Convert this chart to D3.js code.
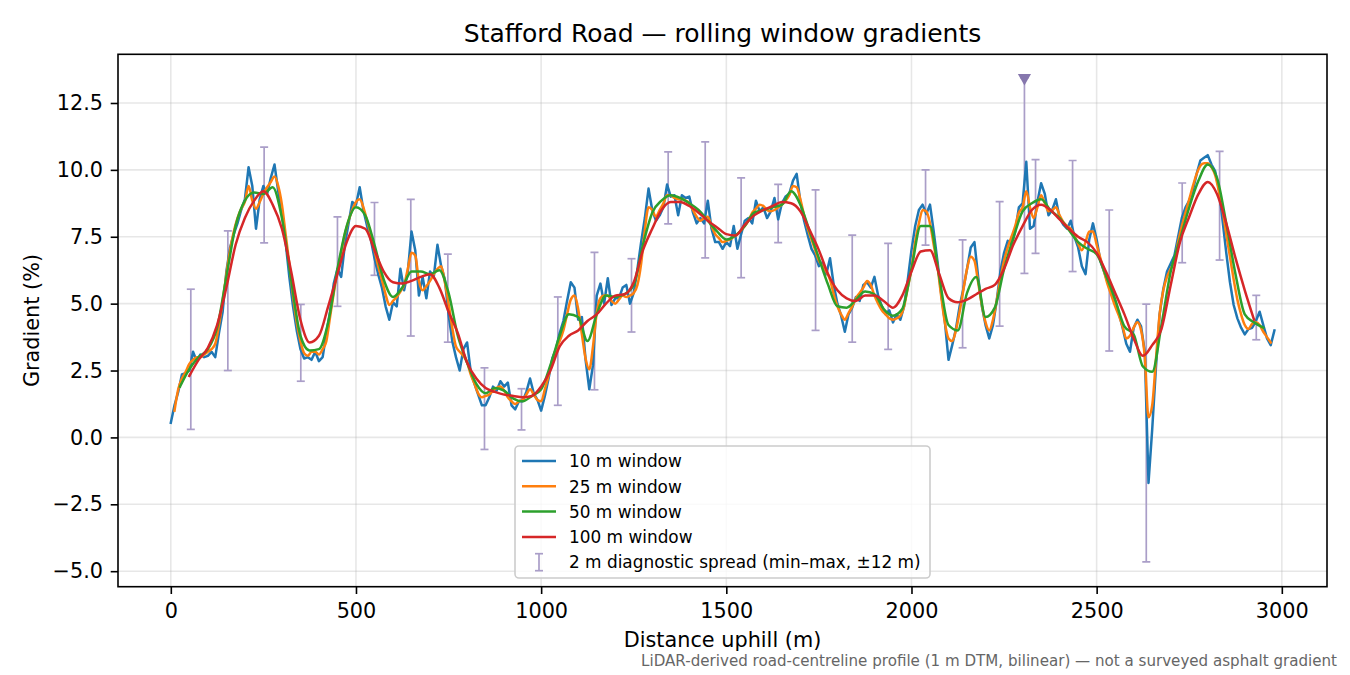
<!DOCTYPE html>
<html><head><meta charset="utf-8">
<script src="https://cdn.jsdelivr.net/npm/d3@7"></script>
<style>
body{margin:0;background:#fff}
svg{display:block}
text{font-family:"DejaVu Sans","Liberation Sans",sans-serif;fill:#000}
</style>
</head><body>
<svg id="chart" width="1350" height="675"></svg>
<script>
// ---------------- DATA ----------------
const titleText = "Stafford Road \u2014 rolling window gradients";
const xLabel = "Distance uphill (m)";
const yLabel = "Gradient (%)";
const footnote = "LiDAR-derived road-centreline profile (1 m DTM, bilinear) \u2014 not a surveyed asphalt gradient";

const xTicks = [0, 500, 1000, 1500, 2000, 2500, 3000];
const yTicks = [-5, -2.5, 0, 2.5, 5, 7.5, 10, 12.5];

const seriesNames = ["10 m window", "25 m window", "50 m window", "100 m window"];
const spreadName = "2 m diagnostic spread (min\u2013max, \u00b112 m)";

// 10 m window: sampled every 10 m starting at 0 m
const w10Start = 0, w10Step = 10;
const w10 = [
 0.55,1.2,1.7,2.35,2.4,2.5,3.2,2.85,3.1,3.0,
 3.05,3.2,3.0,3.9,4.7,6.2,7.1,7.6,8.0,8.5,
 8.9,10.1,9.4,7.8,8.9,9.4,9.1,9.7,10.2,9.2,
 8.4,7.3,6.0,4.9,4.0,3.3,2.95,3.0,2.9,3.2,
 2.85,3.0,3.9,4.7,5.75,6.3,6.0,7.2,8.0,8.8,
 8.7,9.35,8.5,7.9,7.4,6.7,6.1,5.6,4.9,4.4,
 5.05,4.9,6.3,5.5,6.2,7.7,7.0,5.3,6.0,5.2,
 6.2,6.0,7.2,6.4,5.9,4.6,3.6,3.0,2.5,3.3,
 3.55,2.45,2.0,1.6,1.2,1.2,1.5,1.9,1.75,2.1,
 1.9,2.05,1.2,1.05,1.35,1.35,1.7,2.2,1.65,1.4,
 1.0,1.55,2.2,2.95,3.3,3.9,4.35,5.1,5.8,5.6,
 4.4,4.5,2.9,1.8,2.7,5.3,5.75,5.0,5.95,4.95,
 5.2,5.2,5.6,5.7,5.0,5.4,6.3,7.3,8.2,9.3,
 8.5,8.1,8.3,8.6,9.45,9.0,9.05,8.3,9.05,8.95,
 9.0,8.4,8.0,8.2,8.0,8.85,7.8,7.3,7.3,7.05,
 7.3,7.15,7.9,7.05,7.6,8.1,8.2,8.0,8.85,8.45,
 8.6,8.2,8.45,8.95,8.15,8.75,9.0,9.1,9.6,9.85,
 8.8,8.1,7.55,7.05,6.8,6.4,6.55,6.1,6.7,5.7,
 5.0,4.55,3.95,4.6,4.85,5.25,5.1,5.7,5.8,5.6,
 6.0,5.3,4.9,4.6,4.75,4.3,4.6,4.4,4.9,5.9,
 7.0,7.9,8.5,8.7,8.35,8.7,7.7,6.6,5.4,4.35,
 2.9,3.45,4.05,4.9,5.55,6.3,7.1,7.3,6.0,4.9,
 4.2,3.7,4.2,5.1,6.2,6.9,7.35,7.2,7.7,8.6,
 8.75,10.3,7.8,7.9,8.8,9.5,9.1,8.3,8.5,8.9,
 8.2,7.95,7.8,8.1,7.5,7.1,6.4,6.1,7.4,8.0,
 7.4,6.6,6.2,5.8,5.65,5.1,4.65,4.1,3.5,3.2,
 4.1,4.4,4.15,3.2,-1.7,0.3,2.6,4.6,5.55,6.2,
 6.5,6.8,7.5,8.2,8.6,8.85,9.25,9.85,10.35,10.45,
 10.55,10.2,9.95,9.3,8.1,6.9,5.8,4.95,4.45,4.1,
 3.85,4.05,4.1,4.35,4.7,4.2,3.7,3.45,4.0
];

// 25 m window: sampled every 10 m starting at 10 m
const w25Start = 10, w25Step = 10;
const w25 = [
 1.0,1.8,2.2,2.45,2.75,2.9,3.0,3.0,3.1,
 3.2,3.3,3.5,4.2,5.1,6.1,7.0,7.7,8.2,8.55,
 8.8,9.4,8.85,8.55,8.8,9.1,9.35,9.55,9.75,9.4,
 8.7,7.6,6.5,5.3,4.3,3.6,3.15,3.05,3.2,3.2,
 3.1,3.3,3.6,4.5,5.4,6.2,6.9,7.6,8.1,8.5,
 8.8,8.9,8.6,8.1,7.6,7.0,6.4,5.9,5.35,4.95,
 5.1,5.25,5.45,5.7,6.3,6.9,6.8,5.85,5.5,5.65,
 5.85,6.1,6.3,6.4,5.8,5.0,4.1,3.4,3.2,3.05,
 2.8,2.35,2.0,1.65,1.5,1.55,1.6,1.75,1.85,1.9,
 1.75,1.5,1.35,1.25,1.35,1.4,1.6,1.8,1.6,1.4,
 1.35,1.8,2.3,2.85,3.3,3.6,4.0,4.6,5.15,5.3,
 4.8,3.85,2.95,2.55,3.4,4.65,5.2,5.3,5.3,5.1,
 5.0,5.15,5.3,5.25,5.3,5.4,5.7,6.5,7.75,8.6,
 8.5,8.25,8.5,8.75,9.05,9.05,8.95,8.9,8.9,8.85,
 8.75,8.5,8.25,8.1,8.2,8.25,7.9,7.6,7.45,7.3,
 7.35,7.4,7.5,7.6,7.75,7.9,8.1,8.4,8.55,8.7,
 8.65,8.5,8.45,8.5,8.6,8.7,8.85,9.05,9.4,9.35,
 8.9,8.3,7.8,7.4,7.0,6.6,6.4,6.2,5.9,5.35,
 4.9,4.6,4.4,4.65,4.9,5.2,5.4,5.6,5.85,5.7,
 5.3,5.0,4.75,4.6,4.45,4.4,4.45,4.55,4.9,5.6,
 6.3,7.3,8.0,8.5,8.45,8.0,7.2,6.4,5.3,4.3,
 3.7,3.6,4.0,4.7,5.5,6.3,6.75,6.6,5.8,4.95,
 4.3,4.0,4.4,5.1,5.9,6.6,7.1,7.5,7.9,8.4,
 8.6,9.2,8.6,8.2,8.6,9.05,8.75,8.45,8.5,8.6,
 8.3,8.05,7.9,7.8,7.55,7.25,7.0,7.3,7.7,7.7,
 7.2,6.7,6.2,5.7,5.3,4.9,4.55,4.15,3.7,3.8,
 4.1,4.3,4.0,3.0,0.75,1.2,2.9,4.6,5.5,6.0,
 6.3,6.6,7.3,7.9,8.4,8.9,9.4,9.85,10.15,10.25,
 10.25,10.1,9.8,9.2,8.5,7.6,6.75,5.9,5.15,4.6,
 4.2,4.05,4.25,4.3,4.2,3.95,3.75,3.55
];

// 50 m window: sampled every 25 m starting at 25 m
const w50Start = 25, w50Step = 25;
const w50 = [
 1.9,2.55,3.0,3.3,4.1,6.0,7.9,8.85,9.15,9.1,9.35,8.2,5.9,3.8,3.25,3.3,
 4.3,6.3,7.9,8.6,8.3,7.2,5.9,5.25,5.6,6.2,6.2,6.1,6.25,5.4,3.8,2.8,
 2.0,1.65,1.85,1.75,1.45,1.35,1.55,1.8,2.7,3.8,4.6,4.5,3.6,4.6,5.3,5.25,
 5.35,5.7,7.2,8.4,8.85,9.05,8.95,8.75,8.5,8.1,7.7,7.4,7.55,7.9,8.4,8.5,
 8.6,8.7,9.2,8.7,7.7,6.7,5.7,4.9,4.85,5.15,5.45,5.35,4.8,4.55,4.8,6.3,
 7.9,7.9,6.0,4.2,4.0,5.4,6.0,4.5,4.85,6.3,7.45,8.45,8.75,8.9,8.5,8.2,
 7.75,7.3,7.05,6.85,6.05,5.15,4.15,3.85,2.65,2.45,4.2,6.2,7.4,8.6,9.6,10.2,
 9.7,8.0,6.1,4.6,4.3,4.1
];

// 100 m window: sampled every 25 m starting at 50 m
const w100Start = 50, w100Step = 25;
const w100 = [
 2.3,2.9,3.35,4.2,5.6,7.2,8.2,8.85,9.2,8.7,7.8,6.2,4.4,3.55,3.8,4.9,
 6.1,7.3,7.9,7.8,7.0,6.2,5.8,5.75,5.85,6.0,6.1,5.6,4.7,3.9,2.8,2.2,
 1.85,1.7,1.6,1.55,1.5,1.55,1.9,2.5,3.4,3.8,4.0,4.35,4.6,5.0,5.3,5.35,
 5.8,7.0,7.8,8.5,8.8,8.8,8.65,8.4,8.1,7.85,7.6,7.55,7.95,8.3,8.5,8.65,
 8.8,8.75,8.45,7.75,7.0,6.1,5.5,5.2,5.1,5.3,5.3,5.1,4.85,5.3,6.2,6.95,
 7.0,6.1,5.2,5.05,5.15,5.35,5.55,5.7,6.3,7.2,7.9,8.5,8.7,8.5,8.15,7.8,
 7.5,7.3,6.9,6.2,5.4,4.6,3.7,3.05,3.45,4.05,5.7,7.3,8.25,9.1,9.55,9.1,
 8.0,6.7,5.5,4.4
];

// 2 m diagnostic spread (min–max, ±12 m)
const spreadX  = [54,154,252,351,450,550,648,748,847,947,1045,1144,1244,1343,1443,1540,1640,1741,1840,1937,2038,2138,2238,2305,2335,2435,2534,2634,2731,2832,2931];
const spreadLo = [0.3,2.5,7.27,2.1,4.9,6.06,3.79,3.56,-0.45,0.28,1.2,1.78,3.94,7.98,6.71,5.97,7.28,4.0,3.56,3.29,7.19,3.35,4.16,6.13,6.88,6.2,3.23,-4.65,6.53,6.63,3.65];
const spreadHi = [5.54,7.72,10.85,4.97,8.24,8.78,8.9,6.85,2.6,1.82,5.25,6.92,6.68,10.67,11.05,9.7,9.46,9.25,7.56,7.25,10.0,7.38,8.81,13.44,10.38,10.35,8.5,4.98,9.51,10.69,5.31];
// the steepest 2 m reading, flagged with a marker
const peakX = [2305];
const peakY = [13.44];

// ---------------- STYLE ----------------
const colors = ["#1f77b4", "#ff7f0e", "#2ca02c", "#d62728"];
const spreadColor = "#aa9ec8";
const peakColor = "#8677ad";
const FS = 20.8;
const LFS = 16.9;

// ---------------- CHART ----------------
const svg = d3.select("#chart");
const L = 118, R = 1327, T = 54.3, B = 586.7;

const x = d3.scaleLinear().domain([-142.6, 3122]).range([L, R]);
const y = d3.scaleLinear().domain([-5.58, 14.32]).range([B, T]);

svg.append("rect").attr("width", 1350).attr("height", 675).attr("fill", "#fff");

// grid
const grid = svg.append("g");
grid.selectAll(".gx").data(xTicks).join("line")
  .attr("x1", d => x(d)).attr("x2", d => x(d)).attr("y1", T).attr("y2", B)
  .attr("stroke", "#b0b0b0").attr("stroke-opacity", 0.3).attr("stroke-width", 1.6);
grid.selectAll(".gy").data(yTicks).join("line")
  .attr("y1", d => y(d)).attr("y2", d => y(d)).attr("x1", L).attr("x2", R)
  .attr("stroke", "#b0b0b0").attr("stroke-opacity", 0.3).attr("stroke-width", 1.6);

svg.append("clipPath").attr("id", "clip").append("rect")
  .attr("x", L).attr("y", T).attr("width", R - L).attr("height", B - T);
const plot = svg.append("g").attr("clip-path", "url(#clip)");

// error bars
const bars = plot.append("g").attr("stroke", spreadColor).attr("stroke-width", 1.7).attr("fill", "none");
spreadX.forEach((d, i) => {
  const cx = x(d);
  bars.append("line").attr("x1", cx).attr("x2", cx).attr("y1", y(spreadLo[i])).attr("y2", y(spreadHi[i]));
  bars.append("line").attr("x1", cx - 4).attr("x2", cx + 4).attr("y1", y(spreadLo[i])).attr("y2", y(spreadLo[i]));
  bars.append("line").attr("x1", cx - 4).attr("x2", cx + 4).attr("y1", y(spreadHi[i])).attr("y2", y(spreadHi[i]));
});

// series
function pts(vals, start, step) { return vals.map((v, i) => [start + i * step, v]); }
const series = [
  {data: pts(w10, w10Start, w10Step), curve: d3.curveLinear},
  {data: pts(w25, w25Start, w25Step), curve: d3.curveMonotoneX},
  {data: pts(w50, w50Start, w50Step), curve: d3.curveMonotoneX},
  {data: pts(w100, w100Start, w100Step), curve: d3.curveMonotoneX}
];
series.forEach((s, i) => {
  const line = d3.line().x(d => x(d[0])).y(d => y(d[1])).curve(s.curve);
  plot.append("path").attr("d", line(s.data)).attr("fill", "none")
    .attr("stroke", colors[i]).attr("stroke-width", 2.5)
    .attr("stroke-linejoin", "round").attr("stroke-linecap", "square");
});

// peak marker (down triangle)
const tri = d3.symbol().type(d3.symbolTriangle).size(75);
peakX.forEach((d, i) => {
  svg.append("path").attr("d", tri())
    .attr("transform", `translate(${x(d)},${y(peakY[i])}) rotate(180)`)
    .attr("fill", peakColor);
});

// spines
svg.append("rect").attr("x", L).attr("y", T).attr("width", R - L).attr("height", B - T)
  .attr("fill", "none").attr("stroke", "#000").attr("stroke-width", 1.6);

// axes
const xAxis = svg.append("g").attr("transform", `translate(0,${B})`)
  .call(d3.axisBottom(x).tickValues(xTicks).tickFormat(d3.format("d")).tickSize(7.3).tickPadding(8.9));
const yAxis = svg.append("g").attr("transform", `translate(${L},0)`)
  .call(d3.axisLeft(y).tickValues(yTicks).tickFormat(d3.format(".1f")).tickSize(7.3).tickPadding(7.7));
[xAxis, yAxis].forEach(a => {
  a.select(".domain").remove();
  a.selectAll(".tick line").attr("stroke", "#000").attr("stroke-width", 1.6);
  a.selectAll(".tick text").attr("fill", "#000").style("font-size", FS + "px")
    .style("font-family", '"DejaVu Sans", sans-serif');
});

// labels
svg.append("text").attr("x", (L + R) / 2).attr("y", 42).attr("text-anchor", "middle")
  .style("font-size", "25px").text(titleText);
svg.append("text").attr("x", (L + R) / 2).attr("y", 647).attr("text-anchor", "middle")
  .style("font-size", FS + "px").text(xLabel);
svg.append("text").attr("transform", `translate(39,${(T + B) / 2}) rotate(-90)`)
  .attr("text-anchor", "middle").style("font-size", FS + "px").text(yLabel);
svg.append("text").attr("x", 1337).attr("y", 666).attr("text-anchor", "end")
  .style("font-size", "15.1px").style("fill", "#666").text(footnote);

// legend
const lg = svg.append("g");
lg.append("rect").attr("x", 515).attr("y", 446).attr("width", 415).attr("height", 132)
  .attr("rx", 4).attr("fill", "#fff").attr("fill-opacity", 0.8)
  .attr("stroke", "#cccccc").attr("stroke-width", 1.6);
const rowY = i => 461 + i * 25.3;
seriesNames.forEach((n, i) => {
  lg.append("line").attr("x1", 522).attr("x2", 556).attr("y1", rowY(i)).attr("y2", rowY(i))
    .attr("stroke", colors[i]).attr("stroke-width", 2.5);
  lg.append("text").attr("x", 569).attr("y", rowY(i) + 6.2).style("font-size", LFS + "px").text(n);
});
{
  const cy = rowY(4), cx = 539;
  const g = lg.append("g").attr("stroke", spreadColor).attr("stroke-width", 1.7);
  g.append("line").attr("x1", cx).attr("x2", cx).attr("y1", cy - 8.5).attr("y2", cy + 8.5);
  g.append("line").attr("x1", cx - 4).attr("x2", cx + 4).attr("y1", cy - 8.5).attr("y2", cy - 8.5);
  g.append("line").attr("x1", cx - 4).attr("x2", cx + 4).attr("y1", cy + 8.5).attr("y2", cy + 8.5);
  lg.append("text").attr("x", 569).attr("y", cy + 6.2).style("font-size", LFS + "px").text(spreadName);
}
</script>
</body></html>
